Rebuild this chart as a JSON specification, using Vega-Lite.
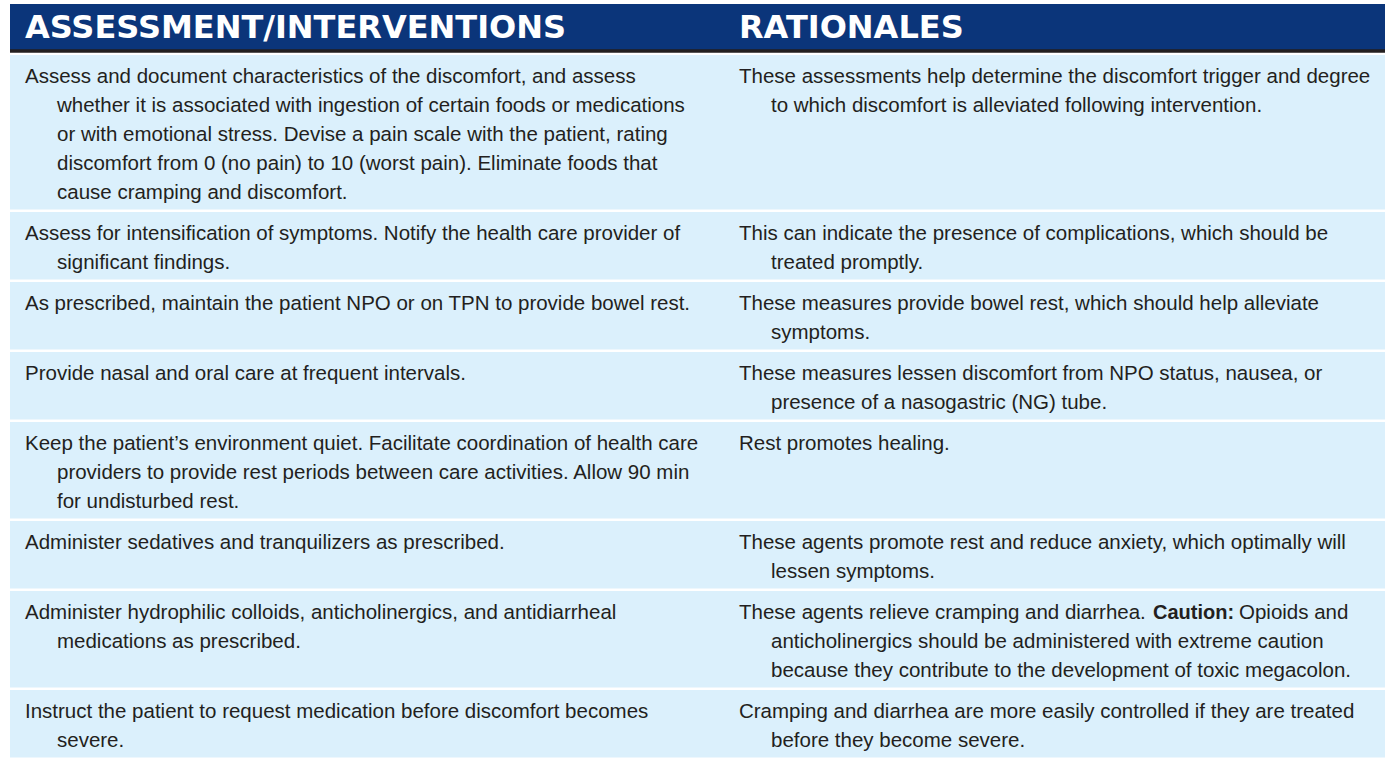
{
  "$schema": "https://vega.github.io/schema/vega-lite/v6.json",
  "padding": {"left": 8, "top": 4, "right": 0, "bottom": 0},
  "background": "white",
  "spacing": 2,
  "config": {"view": {"stroke": null, "fill": "#dbf0fc"}},
  "datasets": {
    "head": [
      {"col": "ASSESSMENT/INTERVENTIONS"},
      {"col": "RATIONALES"}
    ],
    "body": [
      {"r": 1, "col": "ASSESSMENT/INTERVENTIONS", "ln": 1, "txt": "Assess and document characteristics of the discomfort, and assess"},
      {"r": 1, "col": "ASSESSMENT/INTERVENTIONS", "ln": 2, "txt": "whether it is associated with ingestion of certain foods or medications"},
      {"r": 1, "col": "ASSESSMENT/INTERVENTIONS", "ln": 3, "txt": "or with emotional stress. Devise a pain scale with the patient, rating"},
      {"r": 1, "col": "ASSESSMENT/INTERVENTIONS", "ln": 4, "txt": "discomfort from 0 (no pain) to 10 (worst pain). Eliminate foods that"},
      {"r": 1, "col": "ASSESSMENT/INTERVENTIONS", "ln": 5, "txt": "cause cramping and discomfort."},
      {"r": 1, "col": "RATIONALES", "ln": 1, "txt": "These assessments help determine the discomfort trigger and degree"},
      {"r": 1, "col": "RATIONALES", "ln": 2, "txt": "to which discomfort is alleviated following intervention."},
      {"r": 2, "col": "ASSESSMENT/INTERVENTIONS", "ln": 1, "txt": "Assess for intensification of symptoms. Notify the health care provider of"},
      {"r": 2, "col": "ASSESSMENT/INTERVENTIONS", "ln": 2, "txt": "significant findings."},
      {"r": 2, "col": "RATIONALES", "ln": 1, "txt": "This can indicate the presence of complications, which should be"},
      {"r": 2, "col": "RATIONALES", "ln": 2, "txt": "treated promptly."},
      {"r": 3, "col": "ASSESSMENT/INTERVENTIONS", "ln": 1, "txt": "As prescribed, maintain the patient NPO or on TPN to provide bowel rest."},
      {"r": 3, "col": "RATIONALES", "ln": 1, "txt": "These measures provide bowel rest, which should help alleviate"},
      {"r": 3, "col": "RATIONALES", "ln": 2, "txt": "symptoms."},
      {"r": 4, "col": "ASSESSMENT/INTERVENTIONS", "ln": 1, "txt": "Provide nasal and oral care at frequent intervals."},
      {"r": 4, "col": "RATIONALES", "ln": 1, "txt": "These measures lessen discomfort from NPO status, nausea, or"},
      {"r": 4, "col": "RATIONALES", "ln": 2, "txt": "presence of a nasogastric (NG) tube."},
      {"r": 5, "col": "ASSESSMENT/INTERVENTIONS", "ln": 1, "txt": "Keep the patient’s environment quiet. Facilitate coordination of health care"},
      {"r": 5, "col": "ASSESSMENT/INTERVENTIONS", "ln": 2, "txt": "providers to provide rest periods between care activities. Allow 90 min"},
      {"r": 5, "col": "ASSESSMENT/INTERVENTIONS", "ln": 3, "txt": "for undisturbed rest."},
      {"r": 5, "col": "RATIONALES", "ln": 1, "txt": "Rest promotes healing."},
      {"r": 6, "col": "ASSESSMENT/INTERVENTIONS", "ln": 1, "txt": "Administer sedatives and tranquilizers as prescribed."},
      {"r": 6, "col": "RATIONALES", "ln": 1, "txt": "These agents promote rest and reduce anxiety, which optimally will"},
      {"r": 6, "col": "RATIONALES", "ln": 2, "txt": "lessen symptoms."},
      {"r": 7, "col": "ASSESSMENT/INTERVENTIONS", "ln": 1, "txt": "Administer hydrophilic colloids, anticholinergics, and antidiarrheal"},
      {"r": 7, "col": "ASSESSMENT/INTERVENTIONS", "ln": 2, "txt": "medications as prescribed."},
      {"r": 7, "col": "RATIONALES", "ln": 1, "seg": "a", "txt": "These agents relieve cramping and diarrhea."},
      {"r": 7, "col": "RATIONALES", "ln": 1, "seg": "b", "txt": "Caution:"},
      {"r": 7, "col": "RATIONALES", "ln": 1, "seg": "c", "txt": "Opioids and"},
      {"r": 7, "col": "RATIONALES", "ln": 2, "txt": "anticholinergics should be administered with extreme caution"},
      {"r": 7, "col": "RATIONALES", "ln": 3, "txt": "because they contribute to the development of toxic megacolon."},
      {"r": 8, "col": "ASSESSMENT/INTERVENTIONS", "ln": 1, "txt": "Instruct the patient to request medication before discomfort becomes"},
      {"r": 8, "col": "ASSESSMENT/INTERVENTIONS", "ln": 2, "txt": "severe."},
      {"r": 8, "col": "RATIONALES", "ln": 1, "txt": "Cramping and diarrhea are more easily controlled if they are treated"},
      {"r": 8, "col": "RATIONALES", "ln": 2, "txt": "before they become severe."}
    ]
  },
  "vconcat": [
    {
      "width": 1377,
      "height": 47,
      "data": {"name": "head"},
      "view": {"fill": "#0b357a", "stroke": null},
      "layer": [
        {
          "mark": {"type": "text", "align": "left", "baseline": "middle", "font": "DejaVu Sans", "fontWeight": "bold", "fontSize": 32, "color": "white"},
          "encoding": {
            "x": {"field": "col", "type": "nominal", "bandPosition": 0, "axis": null,
                  "scale": {"type": "band", "domain": ["ASSESSMENT/INTERVENTIONS", "RATIONALES"], "paddingInner": 0.5, "paddingOuter": 0.2143, "align": 0.049, "round": false}},
            "text": {"field": "col"}
          }
        },
        {
          "mark": {"type": "rule", "color": "#231f20", "strokeWidth": 3},
          "encoding": {
            "y": {"value": "height"},
            "x": {"value": 0},
            "x2": {"value": "width"}
          }
        }
      ]
    },
    {
      "data": {"name": "body"},
      "facet": {"row": {"field": "r", "type": "ordinal", "header": null}},
      "spacing": {"row": 2},
      "resolve": {"scale": {"y": "independent"}},
      "spec": {
        "width": 1377,
        "height": {"step": 29},
        "encoding": {
          "x": {"field": "col", "type": "nominal", "bandPosition": 0, "axis": null,
                "scale": {"type": "band", "domain": ["ASSESSMENT/INTERVENTIONS", "RATIONALES"], "paddingInner": 0.5, "paddingOuter": 0.2143, "align": 0.049, "round": false}},
          "y": {"field": "ln", "type": "ordinal", "axis": null, "scale": {"type": "point", "padding": 0.665}},
          "text": {"field": "txt"}
        },
        "layer": [
          {
            "transform": [{"filter": "datum.ln == 1 && datum.seg != 'b' && datum.seg != 'c'"}],
            "mark": {"type": "text", "align": "left", "baseline": "middle", "font": "Liberation Sans", "fontSize": 20.5, "color": "#231f20", "dy": 2.5}
          },
          {
            "transform": [{"filter": "datum.ln > 1"}],
            "mark": {"type": "text", "align": "left", "baseline": "middle", "font": "Liberation Sans", "fontSize": 20.5, "color": "#231f20", "dx": 32, "dy": 2.5}
          },
          {
            "transform": [{"filter": "datum.seg == 'b'"}],
            "mark": {"type": "text", "align": "left", "baseline": "middle", "font": "Liberation Sans", "fontWeight": "bold", "fontSize": 20, "color": "#231f20", "dx": 414, "dy": 2.5}
          },
          {
            "transform": [{"filter": "datum.seg == 'c'"}],
            "mark": {"type": "text", "align": "left", "baseline": "middle", "font": "Liberation Sans", "fontSize": 20.5, "color": "#231f20", "dx": 500, "dy": 2.5}
          }
        ]
      }
    }
  ]
}
